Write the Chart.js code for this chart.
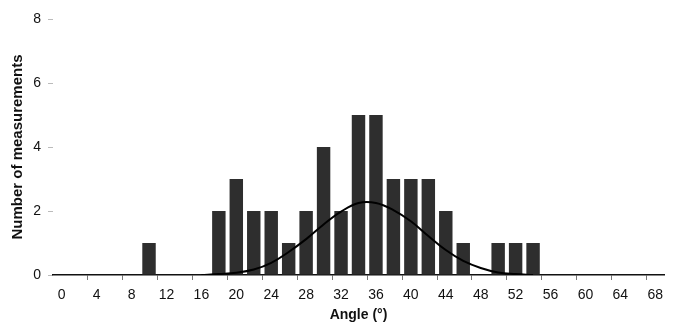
<!DOCTYPE html>
<html>
<head>
<meta charset="utf-8">
<script src="https://cdn.jsdelivr.net/npm/chart.js@4/dist/chart.umd.min.js"></script>
<style>
  html, body { margin: 0; padding: 0; background: #fff; }
  #wrap { width: 675px; height: 324px; }
</style>
</head>
<body>
<div id="wrap"><canvas id="hist-chart"></canvas></div>
<script>
// angle bins (degrees), every 2
const angles = [0,2,4,6,8,10,12,14,16,18,20,22,24,26,28,30,32,34,36,38,40,42,44,46,48,50,52,54,56,58,60,62,64,66,68];
// measured counts per bin
const counts = [0,0,0,0,0,1,0,0,0,2,3,2,2,1,2,4,2,5,5,3,3,3,2,1,0,1,1,1,0,0,0,0,0,0,0];
// fitted normal curve at each bin
const fitCurve = [null,null,null,null,null,null,null,null,0,0.03,0.07,0.17,0.38,0.72,1.12,1.58,1.98,2.25,2.25,2.03,1.68,1.22,0.78,0.44,0.22,0.08,0.03,0,null,null,null,null,null,null,null];
const yTicks = [0,2,4,6,8];

const font = 'Arial, "Liberation Sans", sans-serif';

new Chart('hist-chart', {
    data: {
        labels: angles,
        datasets: [{
            type: 'line',
            data: fitCurve,
            borderColor: '#000',
            borderWidth: 2,
            pointRadius: 0,
            tension: 0.4,
            order: 0
        }, {
            type: 'bar',
            data: counts,
            backgroundColor: '#2e2e2e',
            categoryPercentage: 1,
            barPercentage: 0.77,
            order: 1
        }]
    },
    options: {
        responsive: true,
        maintainAspectRatio: false,
        animation: false,
        layout: { padding: { top: 19, right: 11, left: 9, bottom: 0 } },
        plugins: { legend: { display: false }, tooltip: { enabled: false } },
        scales: {
            x: {
                type: 'category',
                offset: true,
                grid: {
                    offset: true,
                    drawOnChartArea: false,
                    tickLength: 5,
                    tickColor: ctx => (ctx.index % 2 === 0 && ctx.index > 0) ? '#777' : 'rgba(0,0,0,0)'
                },
                border: { color: '#111', width: 1.5 },
                ticks: {
                    autoSkip: false,
                    maxRotation: 0,
                    padding: 7,
                    color: '#111',
                    font: { family: font, size: 14 },
                    callback: (v, i) => i % 2 === 0 ? angles[i] : ''
                },
                title: {
                    display: true,
                    text: 'Angle (°)',
                    color: '#111',
                    padding: { top: 0, bottom: 0 },
                    font: { family: font, size: 14, weight: 'bold' }
                },
                afterFit: s => { s.height = 49; }
            },
            y: {
                min: 0,
                max: 8,
                afterBuildTicks: s => { s.ticks = yTicks.map(v => ({ value: v })); },
                grid: { drawOnChartArea: false, tickLength: 5, tickColor: '#bbb' },
                border: { display: false },
                ticks: {
                    padding: 7,
                    color: '#111',
                    font: { family: font, size: 14 }
                },
                title: {
                    display: true,
                    text: 'Number of measurements',
                    color: '#111',
                    padding: { top: 0, bottom: 0 },
                    font: { family: font, size: 15, weight: 'bold' }
                },
                afterFit: s => { s.width = 44; }
            }
        }
    }
});
</script>
</body>
</html>
